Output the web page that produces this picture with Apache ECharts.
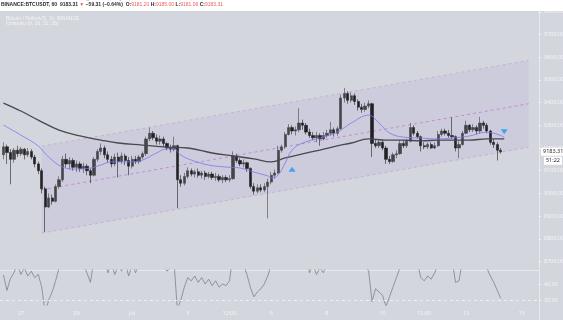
<!DOCTYPE html>
<html>
<head>
<meta charset="utf-8">
<title>BTCUSDT 1h</title>
<script src="https://cdn.jsdelivr.net/npm/echarts@6/dist/echarts.min.js"></script>
<style>
  html, body { margin: 0; padding: 0; background: #d4d6de; }
  #chart { width: 563px; height: 320px; }
</style>
</head>
<body>
<div id="chart"></div>
<script>
/* BTCUSDT — price channel, MAs and RSI pane
   slots are 3h steps from 2020-06-26 06:00 */
'use strict';

var SLOT_COUNT = 156;
var START_UTC = Date.UTC(2020, 5, 26, 6);

// tick labels on the time axis (category -> text)
var tickCats = ['06-27 00:00', '06-29 00:00', '07-01 00:00', '07-03 00:00', '07-04 12:00',
  '07-06 00:00', '07-08 00:00', '07-10 00:00', '07-11 12:00', '07-13 00:00', '07-15 00:00'];
var tickTexts = ['27', '29', 'Jul', '3', '12:00', '6', '8', '10', '12:00', '13', '15'];

var priceTicks = [8700, 8800, 8900, 9000, 9100, 9200, 9300, 9400, 9500, 9600, 9700, 9800];
var rsiTicks = [30, 40];
var lastClose = 9183.31;
var countdown = '51:22';

// candles [open, close, low, high], first one sits in slot 1
var candleFirstSlot = 1;
var candles = [
  [9170, 9205, 9150, 9225], [9205, 9180, 9130, 9215], [9180, 9150, 9040, 9195], [9150, 9190, 9135, 9200],
  [9190, 9175, 9160, 9210], [9175, 9195, 9165, 9205], [9195, 9170, 9150, 9200], [9170, 9185, 9160, 9200],
  [9185, 9160, 9150, 9195], [9160, 9130, 9115, 9170], [9130, 9100, 9085, 9140], [9100, 9020, 9000, 9110],
  [9020, 8940, 8830, 9030], [8940, 8980, 8935, 9000], [8980, 8965, 8950, 8995], [8965, 9030, 8960, 9040],
  [9030, 9060, 9020, 9075], [9060, 9150, 9050, 9165], [9150, 9130, 9115, 9175], [9130, 9145, 9105, 9160],
  [9145, 9115, 9100, 9155], [9115, 9130, 9095, 9145], [9130, 9110, 9095, 9140], [9110, 9120, 9090, 9135],
  [9120, 9100, 9080, 9130], [9100, 9080, 9045, 9110], [9080, 9150, 9075, 9160], [9150, 9185, 9140, 9195],
  [9185, 9200, 9170, 9220], [9200, 9170, 9155, 9210], [9170, 9150, 9135, 9185], [9150, 9130, 9115, 9165],
  [9130, 9160, 9120, 9175], [9160, 9140, 9070, 9180], [9140, 9165, 9130, 9180], [9165, 9145, 9125, 9175],
  [9145, 9120, 9080, 9160], [9120, 9150, 9110, 9165], [9150, 9140, 9130, 9165], [9140, 9160, 9130, 9170],
  [9160, 9175, 9150, 9185], [9175, 9240, 9165, 9250], [9240, 9265, 9230, 9290], [9265, 9245, 9235, 9275],
  [9245, 9230, 9215, 9260], [9230, 9240, 9215, 9255], [9240, 9220, 9205, 9250], [9220, 9200, 9190, 9225],
  [9200, 9195, 9180, 9215], [9195, 9210, 9185, 9250], [9210, 9060, 8935, 9215], [9060, 9045, 9030, 9080],
  [9045, 9075, 9035, 9090], [9075, 9100, 9065, 9115], [9100, 9085, 9075, 9110], [9085, 9095, 9070, 9105],
  [9095, 9080, 9070, 9110], [9080, 9090, 9065, 9100], [9090, 9075, 9060, 9100], [9075, 9085, 9065, 9095],
  [9085, 9070, 9060, 9095], [9070, 9075, 9055, 9090], [9075, 9060, 9050, 9085], [9060, 9070, 9045, 9080],
  [9070, 9060, 9050, 9080], [9060, 9065, 9050, 9080], [9065, 9165, 9060, 9185], [9165, 9145, 9135, 9175],
  [9145, 9130, 9120, 9155], [9130, 9135, 9115, 9150], [9135, 9110, 9095, 9140], [9110, 9030, 9020, 9115],
  [9030, 9010, 8995, 9045], [9010, 9025, 9000, 9040], [9025, 9015, 9005, 9040], [9015, 9030, 9005, 9045],
  [9030, 9050, 8890, 9065], [9050, 9080, 9040, 9095], [9080, 9090, 9065, 9105], [9090, 9190, 9085, 9210],
  [9190, 9205, 9180, 9215], [9205, 9260, 9195, 9270], [9260, 9290, 9255, 9305], [9290, 9275, 9260, 9300],
  [9275, 9280, 9255, 9295], [9280, 9310, 9270, 9375], [9310, 9300, 9280, 9325], [9300, 9270, 9260, 9310],
  [9270, 9255, 9245, 9285], [9255, 9245, 9235, 9270], [9245, 9255, 9225, 9270], [9255, 9240, 9210, 9265],
  [9240, 9255, 9235, 9270], [9255, 9265, 9245, 9280], [9265, 9280, 9255, 9315], [9280, 9265, 9250, 9290],
  [9265, 9285, 9255, 9295], [9285, 9420, 9280, 9435], [9420, 9440, 9400, 9465], [9440, 9410, 9395, 9450],
  [9410, 9430, 9400, 9445], [9430, 9405, 9390, 9440], [9405, 9380, 9365, 9415], [9380, 9370, 9355, 9395],
  [9370, 9385, 9360, 9400], [9385, 9395, 9375, 9410], [9395, 9220, 9160, 9400], [9220, 9210, 9200, 9235],
  [9210, 9225, 9200, 9240], [9225, 9200, 9190, 9235], [9200, 9150, 9130, 9210], [9150, 9140, 9130, 9165],
  [9140, 9170, 9135, 9180], [9170, 9175, 9155, 9190], [9175, 9220, 9170, 9235], [9220, 9210, 9200, 9235],
  [9210, 9230, 9200, 9240], [9230, 9290, 9225, 9310], [9290, 9265, 9255, 9300], [9265, 9250, 9240, 9275],
  [9250, 9210, 9185, 9255], [9210, 9205, 9195, 9225], [9205, 9215, 9195, 9225], [9215, 9200, 9195, 9225],
  [9200, 9210, 9195, 9225], [9210, 9260, 9205, 9275], [9260, 9275, 9250, 9285], [9275, 9265, 9255, 9285],
  [9265, 9255, 9245, 9280], [9255, 9250, 9240, 9335], [9250, 9200, 9185, 9255], [9200, 9215, 9155, 9230],
  [9215, 9265, 9210, 9275], [9265, 9300, 9260, 9320], [9300, 9280, 9270, 9305], [9280, 9290, 9270, 9305],
  [9290, 9275, 9260, 9300], [9275, 9310, 9265, 9337], [9310, 9300, 9285, 9320], [9300, 9275, 9265, 9310],
  [9275, 9225, 9215, 9280], [9225, 9215, 9200, 9240], [9215, 9190, 9145, 9225], [9190, 9183.31, 9175, 9200]
];

// moving averages: [slot, price]
var maSlow = [[1, 9398], [6, 9363], [11, 9323], [17, 9279], [23, 9253], [29, 9235], [34, 9222],
  [41, 9213], [48, 9204], [54, 9200], [61, 9178], [67, 9165], [73, 9152], [78, 9139], [82, 9156],
  [87, 9174], [92, 9191], [97, 9209], [101, 9222], [106, 9240], [111, 9235], [116, 9235],
  [121, 9231], [126, 9235], [130, 9235], [135, 9235], [140, 9240], [145, 9240]];
var maFast = [[1, 9301], [6, 9257], [11, 9209], [14, 9160], [18, 9116], [22, 9107], [26, 9112],
  [29, 9125], [32, 9139], [38, 9139], [41, 9147], [45, 9178], [48, 9196], [50, 9196], [52, 9169],
  [55, 9147], [60, 9125], [65, 9116], [69, 9112], [73, 9094], [77, 9077], [78, 9068], [80, 9081],
  [82, 9134], [84, 9191], [87, 9222], [92, 9244], [97, 9270], [101, 9310], [106, 9345], [109, 9310],
  [112, 9266], [116, 9248], [121, 9244], [126, 9240], [130, 9244], [135, 9253], [140, 9270], [145, 9248]];

// rising channel: two anchor slots, lower / middle / upper prices
var channelSlots = [12, 152];
var channelLower = [8825, 9203];
var channelMid = [9016, 9395];
var channelUpper = [9208, 9586];

// signal arrows
var arrowUp = [[84, 9106]];
var arrowDown = [[145, 9272]];

// RSI, one value per candle (values over ~49 sit above the pane)
var rsi = [45.6, 36, 43.5, 47, 52, 46, 50, 45, 48, 44, 46, 38, 22, 30, 35, 42, 50, 62, 58, 60,
  56, 57, 54, 52, 47, 41, 55, 62, 64, 56, 47, 53, 46, 51, 48, 53, 45, 52, 47, 54,
  58, 66, 68, 62, 60, 61, 52, 48, 50, 55, 24, 30, 38, 44, 42, 45, 41, 44, 40, 43,
  39, 42, 38, 40, 39, 42, 58, 54, 51, 52, 46, 38, 32, 35, 37, 40, 45, 52, 55, 64,
  66, 70, 72, 68, 67, 70, 66, 58, 47, 52, 46, 50, 47, 53, 58, 55, 57, 72, 73, 68,
  69, 64, 60, 57, 52, 48, 29, 37, 35, 33, 26, 32, 38, 44, 50, 52, 55, 64, 58, 54,
  44, 42, 45, 43, 47, 52, 58, 56, 54, 55, 41, 42, 55, 62, 58, 60, 56, 63, 60, 50,
  45, 41, 36, 31];

function pad(n) { return n < 10 ? '0' + n : '' + n; }

var categories = [];
for (var s = 0; s < SLOT_COUNT; s++) {
  var d = new Date(START_UTC + s * 3 * 3600 * 1000);
  categories.push(pad(d.getUTCMonth() + 1) + '-' + pad(d.getUTCDate()) + ' ' + pad(d.getUTCHours()) + ':00');
}

var candleData = candles.map(function (c, k) { return [candleFirstSlot + k].concat(c); });
var rsiData = rsi.map(function (v, k) { return [candleFirstSlot + k, v]; });

var AXIS_TEXT = '#f3f4f7';
var SEP = '#e8e9ee';
var PRICE_MIN = 8662.6, PRICE_MAX = 9803.5;
var RSI_MIN = 26.875, RSI_MAX = 48.75;

function channelLine(vals, color) {
  return {
    type: 'line', xAxisIndex: 0, yAxisIndex: 0, silent: true, symbol: 'none', z: 2,
    data: [[channelSlots[0], vals[0]], [channelSlots[1], vals[1]]],
    lineStyle: { color: color, width: 0.8, type: [3, 3] }
  };
}

var chart = echarts.init(document.getElementById('chart'), null, { renderer: 'canvas' });

chart.setOption({
  animation: false,
  backgroundColor: '#d4d6de',
  textStyle: { fontFamily: 'Noto Sans, sans-serif' },
  grid: [
    { left: 0, right: 24, top: 11, height: 259, outerBoundsMode: 'none', containLabel: false },
    { left: 0, right: 24, top: 270, height: 35, outerBoundsMode: 'none', containLabel: false }
  ],
  xAxis: [
    {
      type: 'category', gridIndex: 0, data: categories, boundaryGap: false,
      axisLine: { show: true, lineStyle: { color: SEP, width: 1 } },
      axisTick: { show: false }, axisLabel: { show: false }, splitLine: { show: false }
    },
    {
      type: 'category', gridIndex: 1, data: categories, boundaryGap: false,
      axisLine: { show: false }, axisTick: { show: false }, splitLine: { show: false },
      axisLabel: {
        color: AXIS_TEXT, fontSize: 5.5, margin: 5,
        interval: function (idx, val) { return tickCats.indexOf(val) >= 0; },
        formatter: function (val) { return tickTexts[tickCats.indexOf(val)] || ''; }
      }
    }
  ],
  yAxis: [
    {
      type: 'value', gridIndex: 0, position: 'right', min: PRICE_MIN, max: PRICE_MAX,
      splitLine: { show: false },
      axisLine: { show: true, lineStyle: { color: SEP, width: 1 } },
      axisTick: { show: true, customValues: priceTicks, length: 2, lineStyle: { color: AXIS_TEXT } },
      axisLabel: {
        customValues: priceTicks, color: AXIS_TEXT, fontSize: 5.5, margin: 5,
        formatter: function (v) { return v.toFixed(2); }
      }
    },
    {
      // last price box
      type: 'value', gridIndex: 0, position: 'right', min: PRICE_MIN, max: PRICE_MAX,
      splitLine: { show: false }, axisLine: { show: false }, axisTick: { show: false },
      axisLabel: {
        customValues: [lastClose], color: '#2a2a2e', fontSize: 5.5, margin: 2,
        backgroundColor: '#ffffff', padding: [1, 2, 1, 2],
        formatter: function (v) { return v.toFixed(2); }
      }
    },
    {
      // bar countdown under the price box
      type: 'value', gridIndex: 0, position: 'right', min: PRICE_MIN, max: PRICE_MAX,
      splitLine: { show: false }, axisLine: { show: false }, axisTick: { show: false },
      axisLabel: {
        customValues: [lastClose], margin: 23, align: 'right', verticalAlign: 'top',
        padding: [5, 0, 0, 0],
        formatter: function () { return '{t|' + countdown + '}'; },
        rich: { t: { color: '#2a2a2e', fontSize: 5.5, backgroundColor: '#ffffff', padding: [1, 2, 1, 2] } }
      }
    },
    {
      type: 'value', gridIndex: 1, position: 'right', min: RSI_MIN, max: RSI_MAX,
      splitLine: { show: false },
      axisLine: { show: true, lineStyle: { color: SEP, width: 1 } },
      axisTick: { show: true, customValues: rsiTicks, length: 2, lineStyle: { color: AXIS_TEXT } },
      axisLabel: {
        customValues: rsiTicks, color: AXIS_TEXT, fontSize: 5.5, margin: 5,
        formatter: function (v) { return v.toFixed(2); }
      }
    }
  ],
  graphic: [
    { type: 'rect', left: 0, top: 0, z: 100, shape: { width: 563, height: 11 }, style: { fill: '#ffffff' } },
    {
      type: 'text', left: 1, top: -4, z: 101,
      style: { text: 'Bitcoin / TetherUS published on TradingView.com, July 14, 2020 10:08:35 UTC', fontSize: 5, fill: '#8a8a90' }
    },
    {
      type: 'text', left: 1, top: 2, z: 101,
      style: {
        text: '{d|BINANCE:BTCUSDT, 60  9183.31 }{r|▼}{d| −59.31 (−0.64%)  O:}{r|9181.20}{d| H:}{r|9185.00}{d| L:}{r|9181.06}{d| C:}{r|9183.31}',
        rich: {
          d: { fontSize: 5, fill: '#2b2b30', fontWeight: 'bold' },
          r: { fontSize: 5, fill: '#f05a5a' }
        }
      }
    },
    { type: 'text', left: 6, top: 16, z: 50, style: { text: 'Bitcoin / TetherUS, 1h, BINANCE', fontSize: 5, fill: '#f3f4f8' } },
    { type: 'text', left: 6, top: 21.5, z: 50, style: { text: 'Ichimoku (9, 26, 52, 26)', fontSize: 5, fill: '#f3f4f8' } },
    { type: 'line', z: 50, shape: { x1: 539.5, y1: 305, x2: 539.5, y2: 320 }, style: { stroke: SEP, lineWidth: 1 } }
  ],
  series: [
    {
      // channel band
      type: 'custom', xAxisIndex: 0, yAxisIndex: 0, silent: true, z: 1,
      data: [[channelSlots[0], channelLower[0]]],
      renderItem: function (params, api) {
        var pts = [
          api.coord([channelSlots[0], channelLower[0]]),
          api.coord([channelSlots[1], channelLower[1]]),
          api.coord([channelSlots[1], channelUpper[1]]),
          api.coord([channelSlots[0], channelUpper[0]])
        ];
        return { type: 'polygon', shape: { points: pts }, style: { fill: 'rgba(125,95,200,0.08)' } };
      }
    },
    channelLine(channelUpper, 'rgba(190,150,200,0.7)'),
    channelLine(channelMid, 'rgba(185,110,200,0.85)'),
    channelLine(channelLower, 'rgba(190,150,200,0.7)'),
    {
      type: 'candlestick', xAxisIndex: 0, yAxisIndex: 0, z: 3,
      data: candleData,
      encode: { x: 0, y: [1, 2, 3, 4] },
      barWidth: '80%',
      itemStyle: {
        color: '#44444a', color0: '#222226',
        borderColor: '#44444a', borderColor0: '#222226', borderWidth: 0.6
      }
    },
    {
      type: 'line', xAxisIndex: 0, yAxisIndex: 0, z: 4, silent: true, symbol: 'none', smooth: 0.4,
      data: maSlow, lineStyle: { color: '#48484e', width: 1.3 }
    },
    {
      type: 'line', xAxisIndex: 0, yAxisIndex: 0, z: 4, silent: true, symbol: 'none', smooth: 0.4,
      data: maFast, lineStyle: { color: '#7a77ee', width: 0.8 }
    },
    {
      type: 'scatter', xAxisIndex: 0, yAxisIndex: 0, z: 5, silent: true,
      symbol: 'triangle', symbolSize: [7, 5], data: arrowUp,
      itemStyle: { color: '#2196f3' }
    },
    {
      type: 'scatter', xAxisIndex: 0, yAxisIndex: 0, z: 5, silent: true,
      symbol: 'triangle', symbolSize: [7, 5], symbolRotate: 180, data: arrowDown,
      itemStyle: { color: '#2196f3' }
    },
    {
      type: 'line', xAxisIndex: 1, yAxisIndex: 3, silent: true, symbol: 'none', clip: true,
      data: rsiData, lineStyle: { color: '#808088', width: 0.8 },
      markLine: {
        silent: true, symbol: 'none', label: { show: false },
        lineStyle: { color: '#f3f4f7', type: [3, 3], width: 0.8 },
        data: [{ yAxis: 30 }]
      }
    }
  ]
});
</script>
</body>
</html>
